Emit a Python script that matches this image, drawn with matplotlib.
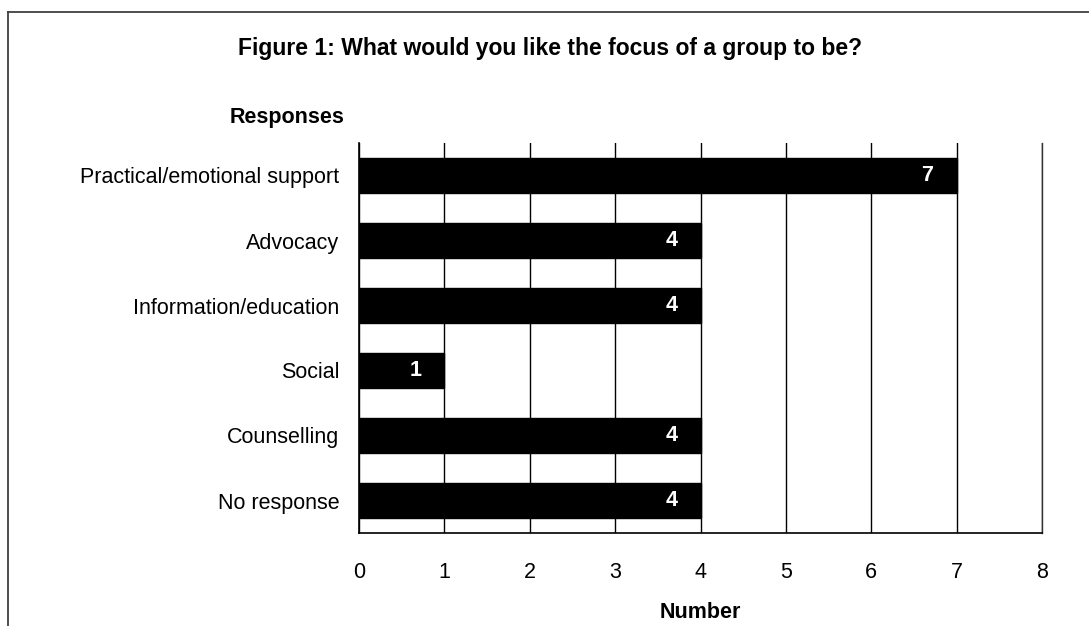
import matplotlib
matplotlib.use("Agg")
import matplotlib.pyplot as plt
from matplotlib.lines import Line2D

plt.rcParams['font.family'] = ['Liberation Sans', 'DejaVu Sans']

categories = ["Practical/emotional support", "Advocacy", "Information/education",
              "Social", "Counselling", "No response"]
counts = [7, 4, 4, 1, 4, 4]
x_ticks = [0, 1, 2, 3, 4, 5, 6, 7, 8]

W, H = 1089, 626
fig = plt.figure(figsize=(W / 100, H / 100), dpi=100)
fig.patch.set_facecolor("white")

# outer frame (left and top edges)
fig.add_artist(Line2D([7.5 / W, 7.5 / W], [0, 1 - 12 / H], transform=fig.transFigure,
                      color="#404040", lw=1.3))
fig.add_artist(Line2D([7.5 / W, 1], [1 - 12 / H, 1 - 12 / H], transform=fig.transFigure,
                      color="#404040", lw=1.3))

ax = fig.add_axes([359 / W, 1 - 533 / H, (1042 - 359) / W, (533 - 143) / H])

ypos = list(range(len(categories)))
ax.barh(ypos, counts, height=0.53, color="black", edgecolor="black", zorder=3)

for y, v in zip(ypos, counts):
    ax.text(v - 0.34, y, str(v), color="white", fontsize=15.5, fontweight="bold",
            ha="center", va="center", zorder=4)

ax.set_xlim(0, 8)
ax.set_ylim(len(categories) - 0.5, -0.5)
ax.set_xticks(x_ticks)
ax.set_xticklabels([str(t) for t in x_ticks], fontsize=15.5)
ax.set_yticks(ypos)
ax.set_yticklabels(categories, fontsize=15.5)
ax.tick_params(axis="x", length=0, pad=21)
ax.tick_params(axis="y", length=0, pad=14)

ax.grid(axis="x", color="black", lw=1, zorder=1)
ax.set_axisbelow(True)
ax.spines["top"].set_visible(False)
ax.spines["right"].set_color("#333333")
ax.spines["right"].set_linewidth(1.0)
for side in ("left", "bottom"):
    ax.spines[side].set_color("black")
    ax.spines[side].set_linewidth(1.2)
    ax.spines[side].set_zorder(5)

fig.text(550 / W, 1 - 48 / H, "Figure 1: What would you like the focus of a group to be?",
         fontsize=16.5, fontweight="bold", ha="center", va="center")
fig.text(287 / W, 1 - 117 / H, "Responses", fontsize=15.5, fontweight="bold",
         ha="center", va="center")
fig.text(700 / W, 1 - 612 / H, "Number", fontsize=15.5, fontweight="bold",
         ha="center", va="center")

fig.savefig("out.png", dpi=100, facecolor="white")
